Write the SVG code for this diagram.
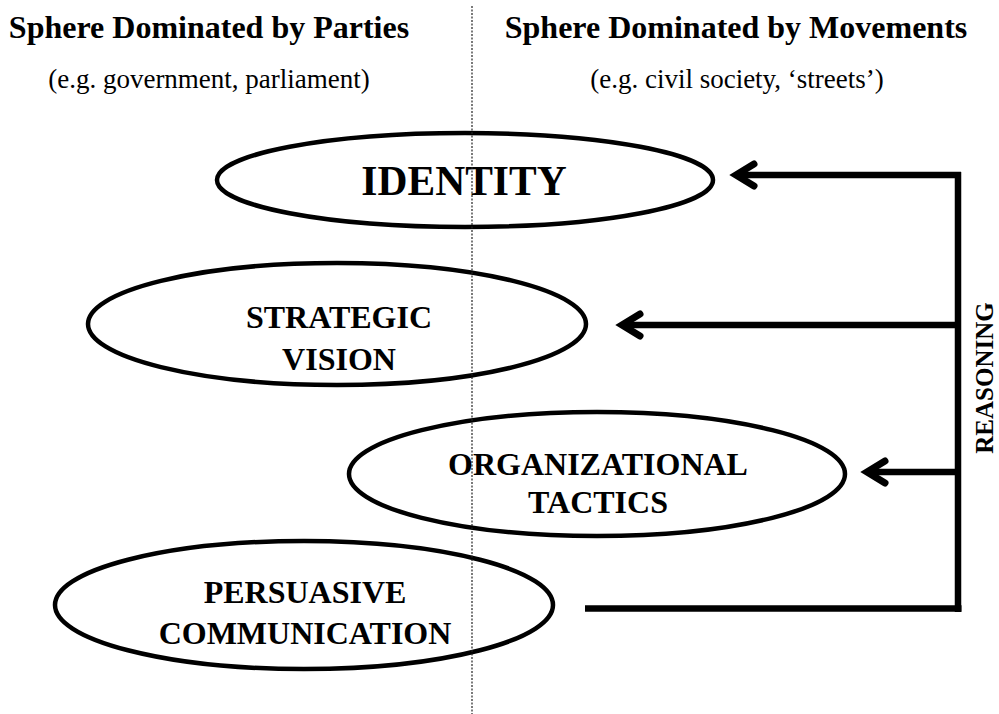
<svg xmlns="http://www.w3.org/2000/svg" width="999" height="714" viewBox="0 0 999 714">
<style>
  text { font-family: "Liberation Serif", "Times New Roman", serif; fill: #000; }
  .hdr { font-size: 32px; font-weight: bold; text-anchor: middle; }
  .sub { font-size: 27px; text-anchor: middle; }
  .lbl { font-size: 32px; font-weight: bold; text-anchor: middle; }
  .big { font-size: 41.5px; font-weight: bold; text-anchor: middle; }
  .node ellipse { fill: none; stroke: #000; stroke-width: 4.5; }
  .conn { fill: none; stroke: #000; stroke-width: 6.5; }
  .divider { stroke: #222; stroke-width: 1.2; stroke-dasharray: 2 1.5; }
</style>
<defs>
  <marker id="chev" markerUnits="userSpaceOnUse" viewBox="-30 -20 40 40" refX="0" refY="0" markerWidth="40" markerHeight="40" orient="auto" overflow="visible">
    <path d="M -18 -11 L 0 0 L -18 11" fill="none" stroke="#000" stroke-width="7" stroke-linecap="round" stroke-linejoin="miter"/>
  </marker>
</defs>
<rect width="999" height="714" fill="#fff"/>

<g id="headers">
  <text class="hdr" x="209" y="38">Sphere Dominated by Parties</text>
  <text class="sub" x="209" y="88">(e.g. government, parliament)</text>
  <text class="hdr" x="736" y="38">Sphere Dominated by Movements</text>
  <text class="sub" x="737" y="88">(e.g. civil society, ‘streets’)</text>
</g>

<g id="identity" class="node">
  <ellipse cx="465" cy="180" rx="248" ry="47"/>
  <text class="big" x="464" y="195">IDENTITY</text>
</g>

<g id="strategic-vision" class="node">
  <ellipse cx="337" cy="324" rx="249" ry="61"/>
  <text class="lbl" x="339" y="328">STRATEGIC</text>
  <text class="lbl" x="339" y="370">VISION</text>
</g>

<g id="organizational-tactics" class="node">
  <ellipse cx="597" cy="474" rx="248" ry="62"/>
  <text class="lbl" x="598" y="475">ORGANIZATIONAL</text>
  <text class="lbl" x="598" y="513">TACTICS</text>
</g>

<g id="persuasive-communication" class="node">
  <ellipse cx="304" cy="605" rx="249" ry="64"/>
  <text class="lbl" x="305" y="603">PERSUASIVE</text>
  <text class="lbl" x="305" y="644">COMMUNICATION</text>
</g>

<g id="connectors">
  <line class="conn" x1="585" y1="608.5" x2="961.5" y2="608.5"/>
  <line class="conn" x1="958" y1="172" x2="958" y2="612" stroke-width="7"/>
  <line class="conn" x1="961" y1="175" x2="736" y2="175" marker-end="url(#chev)"/>
  <line class="conn" x1="958" y1="325" x2="622" y2="325" marker-end="url(#chev)"/>
  <line class="conn" x1="958" y1="472" x2="867" y2="472" marker-end="url(#chev)"/>
  <text x="984" y="378" font-size="25" font-weight="bold" text-anchor="middle" transform="rotate(-90 984 378)" dy="9">REASONING</text>
</g>

<line id="divider" class="divider" x1="472" y1="6" x2="472" y2="714"/>
</svg>
